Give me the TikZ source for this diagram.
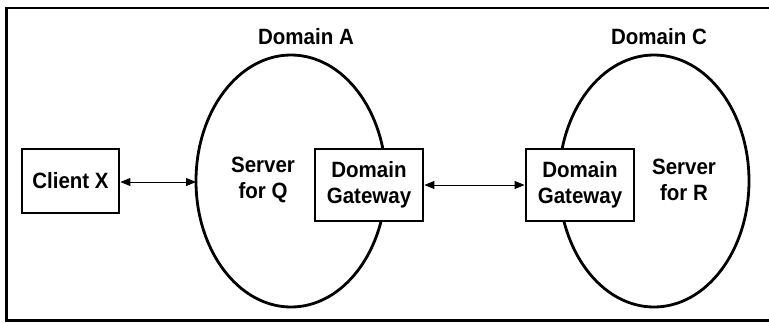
\documentclass[tikz,border=0pt]{standalone}
\usepackage{fontspec}
\setmainfont{Liberation Sans}
\usetikzlibrary{arrows.meta,shapes.geometric}
\begin{document}
\begin{tikzpicture}[x=1pt,y=-1pt,
  lbl/.style={font=\bfseries\fontsize{20.5}{24.5}\selectfont, align=center, inner sep=0pt, yscale=1.08},
  boxn/.style={draw, line width=2.8pt, inner sep=0pt},
  dom/.style={draw, line width=2.8pt, ellipse},
  link/.style={line width=0.9pt, {Triangle[length=10pt,width=8pt]}-{Triangle[length=10pt,width=8pt]}}]
\useasboundingbox (0,0) rectangle (769,322);
\fill[white] (0,0) rectangle (769,322);
\draw[line width=2.2pt] (780,8) -- (6.5,8) -- (6.5,320.5) -- (780,320.5);
% ellipses
\draw[dom] (291,181) ellipse [x radius=95, y radius=126];
\draw[dom] (654,181) ellipse [x radius=95, y radius=126];
% boxes
\node[boxn, fill=white, minimum width=97pt, minimum height=64pt] (cx) at (70.5,181) {};
\node[lbl] at (cx) {Client X};
\node[boxn, fill=white, minimum width=108pt, minimum height=72pt] (ga) at (369,185) {};
\node[lbl] at (ga) {Domain\\Gateway};
\node[boxn, fill=white, minimum width=108pt, minimum height=72pt] (gc) at (580,185) {};
\node[lbl] at (gc) {Domain\\Gateway};
\coordinate (ea) at (196,182);
% labels
\node[lbl] (da) at (306,37) {Domain A};
\node[lbl] (dc) at (659,37) {Domain C};
\node[lbl] (sq) at (263,180) {Server\\for Q};
\node[lbl] (sr) at (684,180) {Server\\for R};
% connectors
\draw[link] (cx.east |- ea) -- (ea);
\draw[link] (ga.east) -- (gc.west);
\end{tikzpicture}
\end{document}
